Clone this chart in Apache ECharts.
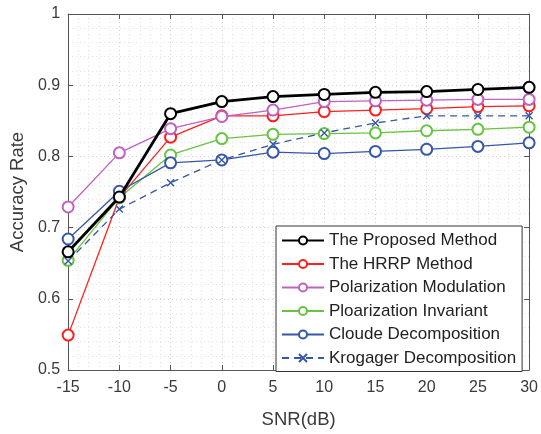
<!DOCTYPE html>
<html><head><meta charset="utf-8">
<script src="https://cdn.jsdelivr.net/npm/echarts@6/dist/echarts.min.js"></script>
<style>html,body{margin:0;padding:0;background:#fff}#c{width:541px;height:434px}</style>
</head><body><div id="c"></div>
<script>
const snr = [-15,-10,-5,0,5,10,15,20,25,30];
const proposed = [0.666,0.743,0.860,0.877,0.884,0.887,0.890,0.891,0.894,0.897];
const hrrp = [0.549,0.742,0.827,0.857,0.857,0.863,0.865,0.867,0.870,0.871];
const polMod = [0.729,0.805,0.839,0.856,0.865,0.877,0.878,0.879,0.880,0.880];
const polInv = [0.654,0.742,0.802,0.825,0.831,0.832,0.833,0.836,0.838,0.841];
const cloude = [0.684,0.751,0.791,0.795,0.806,0.804,0.807,0.810,0.814,0.819];
const krogager = [0.653,0.726,0.763,0.795,0.817,0.833,0.847,0.857,0.857,0.857];
const names = ['The Proposed Method','The HRRP Method','Polarization Modulation','Ploarization Invariant','Cloude Decomposition','Krogager Decomposition'];
const yTicks = [0.5,0.6,0.7,0.8,0.9,1];

const font = 'Liberation Sans, Arial, Helvetica, sans-serif';
const txt = '#3a3a3a';
const pair = arr => snr.map((x,i)=>[x,arr[i]]);
const cross = 'path://M0,0L10,10M10,0L0,10';

function mk(name, arr, color, width, opts) {
  return Object.assign({
    name, type:'line', data: pair(arr), symbol:'emptyCircle', symbolSize: 11,
    lineStyle:{color, width}, itemStyle:{color: color, borderWidth: width},
    emphasis:{disabled:true}, animation:false, z: 3
  }, opts||{});
}

const chart = echarts.init(document.getElementById('c'));
const axisCommonX = {
  type:'value', min:-15, max:30, interval:5,
  axisLine:{show:true, onZero:false, lineStyle:{color:'#555', width:1}},
  axisTick:{show:true, inside:true, length:5, lineStyle:{color:'#555'}},
};
const axisCommonY = {
  type:'value', min:0.5, max:1, interval:0.1,
  axisLine:{show:true, onZero:false, lineStyle:{color:'#555', width:1}},
  axisTick:{show:true, inside:true, length:5, lineStyle:{color:'#555'}},
};
chart.setOption({
  backgroundColor:'#fff',
  animation:false,
  grid:{left:64, right:6, top:14, bottom:54, containLabel:false},
  xAxis:[
    Object.assign({}, axisCommonX, {
      position:'bottom', name:'SNR(dB)', nameLocation:'middle', nameGap:40,
      nameTextStyle:{fontFamily:font, fontSize:18.5, color:txt},
      axisLabel:{fontFamily:font, fontSize:16, color:txt, margin:10, formatter: v=>String(v)},
      splitLine:{show:true, lineStyle:{color:'#d0d0d0', type:[1,3], width:1}},
      minorTick:{show:false, splitNumber:5},
      minorSplitLine:{show:true, lineStyle:{color:'#e2e2e2', type:[1,3], width:1}}
    }),
    Object.assign({}, axisCommonX, {position:'top', axisLabel:{show:false}, splitLine:{show:false}})
  ],
  yAxis:[
    Object.assign({}, axisCommonY, {
      position:'left', name:'Accuracy Rate', nameLocation:'middle', nameGap:35,
      nameTextStyle:{fontFamily:font, fontSize:18.5, color:txt},
      axisLabel:{fontFamily:font, fontSize:16, color:txt, margin:8,
        formatter: v => { const t = yTicks.find(a=>Math.abs(a-v)<1e-6); return t===undefined? '' : String(t); }},
      splitLine:{show:true, lineStyle:{color:'#d0d0d0', type:[1,3], width:1}},
      minorTick:{show:false, splitNumber:5},
      minorSplitLine:{show:true, lineStyle:{color:'#e2e2e2', type:[1,3], width:1}}
    }),
    Object.assign({}, axisCommonY, {position:'right', axisLabel:{show:false}, splitLine:{show:false}})
  ],
  legend:{
    orient:'vertical', left:276, top:226,
    backgroundColor:'#fff', borderColor:'#333', borderWidth:1,
    padding:[6,6,5,5], itemWidth:42, itemHeight:10, itemGap:6.5,
    textStyle:{fontFamily:font, fontSize:17, color:'#222'},
    data: names.map(n=>({name:n}))
  },
  series:[
    mk(names[0], proposed, '#000000', 2.8, {z:6}),
    mk(names[1], hrrp, '#ff1f1f', 1.3),
    mk(names[2], polMod, '#c060c0', 1.3),
    mk(names[3], polInv, '#66c440', 1.3),
    mk(names[4], cloude, '#3656a8', 1.3),
    mk(names[5], krogager, '#3656a8', 1.3, {
      symbol: cross, symbolSize: 7,
      lineStyle:{color:'#3656a8', width:1.3, type:[7,5]},
      itemStyle:{color:'#3656a8', borderColor:'#3656a8', borderWidth:1.4}
    })
  ]
});
</script></body></html>
